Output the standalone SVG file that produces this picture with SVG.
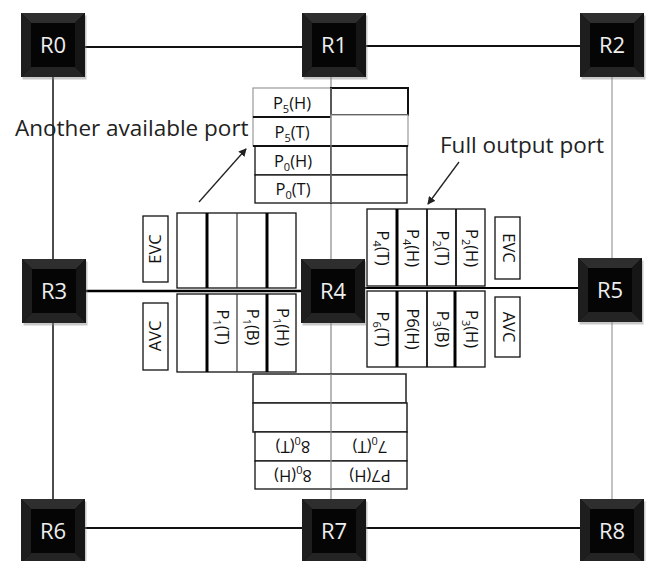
<svg xmlns="http://www.w3.org/2000/svg" xmlns:xlink="http://www.w3.org/1999/xlink" width="646" height="561" viewBox="0 0 646 561">
<style>
.lbl{font-family:"Open Sans","Noto Sans","Liberation Sans",sans-serif;font-size:16.5px;fill:#111;text-anchor:middle}
.rl{font-family:"Open Sans","Noto Sans","Liberation Sans",sans-serif;font-size:22px;fill:#eee;text-anchor:middle}
.ann{font-family:"Open Sans","Noto Sans","Liberation Sans",sans-serif;font-size:22.5px;fill:#222}
.sub{font-size:11px}
.cell{fill:#fff;stroke:#111;stroke-width:1.3}
.thin{stroke:#333;stroke-width:1.2}
.thick{stroke:#000;stroke-width:3}
.gray{stroke:#999;stroke-width:1.2}
.blk{stroke:#111;stroke-width:2;fill:none}
</style>
<defs>
<marker id="ah" markerWidth="8" markerHeight="8" refX="7" refY="4" orient="auto" markerUnits="userSpaceOnUse">
<path d="M0,0 L8,4 L0,8 z" fill="#222"/>
</marker>
<g id="router">
<rect x="1.5" y="2.5" width="64" height="64" fill="#888" opacity="0.45"/>
<rect x="0" y="0" width="64" height="64" fill="#000"/>
<polygon points="0,0 64,0 54,10 10,10" fill="#2e2e2e"/>
<polygon points="0,0 10,10 10,54 0,64" fill="#1e1e1e"/>
<polygon points="64,0 64,64 54,54 54,10" fill="#161616"/>
<polygon points="0,64 64,64 54,54 10,54" fill="#242424"/>
<rect x="10" y="10" width="44" height="44" fill="#050505"/>
</g>
</defs>
<rect width="646" height="561" fill="#fff"/>

<g id="connectors">
<line x1="85" y1="47" x2="302" y2="47" class="blk"/>
<line x1="366" y1="46" x2="580" y2="46" class="blk"/>
<line x1="53" y1="77" x2="53" y2="259" stroke="#111" stroke-width="1.5"/>
<line x1="53" y1="323" x2="53" y2="499" stroke="#111" stroke-width="1.5"/>
<line x1="612" y1="77" x2="612" y2="258" stroke="#999" stroke-width="1.2"/>
<line x1="612" y1="322" x2="612" y2="499" stroke="#999" stroke-width="1.2"/>
<line x1="331" y1="77" x2="331" y2="259" stroke="#888" stroke-width="1.2"/>
<line x1="331" y1="323" x2="331" y2="499" stroke="#888" stroke-width="1.2"/>
<line x1="86" y1="291" x2="301" y2="291" stroke="#000" stroke-width="2.6"/>
<line x1="365" y1="288" x2="578" y2="288" stroke="#000" stroke-width="2"/>
<line x1="85" y1="528" x2="302" y2="528" class="blk"/>
<line x1="366" y1="528" x2="580" y2="528" class="blk"/>
<line x1="199" y1="202" x2="246" y2="149" stroke="#222" stroke-width="1.3" marker-end="url(#ah)"/>
<line x1="459" y1="162" x2="428" y2="204" stroke="#222" stroke-width="1.3" marker-end="url(#ah)"/>
</g>

<g id="top-ports">
<rect x="253" y="88" width="78" height="29" fill="#fff" stroke="#999" stroke-width="1.2"/>
<rect x="253" y="117" width="78" height="29" fill="#fff" stroke="#999" stroke-width="1.2"/>
<line x1="253" y1="117" x2="331" y2="117" class="blk"/>
<rect x="331" y="88" width="77" height="27" fill="#fff" stroke="#111" stroke-width="2"/>
<rect x="331" y="115" width="77" height="31" fill="#fff" stroke="#999" stroke-width="1.2"/>
<rect x="255" y="146" width="76" height="29" class="cell"/>
<rect x="255" y="175" width="76" height="28" class="cell"/>
<rect x="331" y="146" width="76" height="29" class="cell"/>
<rect x="331" y="175" width="76" height="28" class="cell"/>
<line x1="253" y1="146" x2="408" y2="146" class="blk"/>
<line x1="331" y1="88" x2="331" y2="203" stroke="#888" stroke-width="1.2"/>
<text class="lbl" x="292" y="109">P<tspan class="sub" dy="4">5</tspan><tspan dy="-4">(H)</tspan></text>
<text class="lbl" x="292" y="138">P<tspan class="sub" dy="4">5</tspan><tspan dy="-4">(T)</tspan></text>
<text class="lbl" x="293" y="167">P<tspan class="sub" dy="4">0</tspan><tspan dy="-4">(H)</tspan></text>
<text class="lbl" x="293" y="195">P<tspan class="sub" dy="4">0</tspan><tspan dy="-4">(T)</tspan></text>
</g>

<g id="left-ports">
<rect x="177" y="213" width="119" height="75" class="cell"/>
<rect x="177" y="294" width="119" height="78" class="cell"/>
<line x1="207" y1="213" x2="207" y2="288" class="thick"/>
<line x1="237" y1="213" x2="237" y2="288" class="thin"/>
<line x1="267" y1="213" x2="267" y2="288" class="thick"/>
<line x1="207" y1="294" x2="207" y2="372" class="thick"/>
<line x1="237" y1="294" x2="237" y2="372" class="thin"/>
<line x1="267" y1="294" x2="267" y2="372" class="thick"/>
<text class="lbl" transform="translate(222,327) rotate(90)" y="5">P<tspan class="sub" dy="4">1</tspan><tspan dy="-4">(T)</tspan></text>
<text class="lbl" transform="translate(252,327) rotate(90)" y="5">P<tspan class="sub" dy="4">1</tspan><tspan dy="-4">(B)</tspan></text>
<text class="lbl" transform="translate(282,327) rotate(90)" y="5">P<tspan class="sub" dy="4">1</tspan><tspan dy="-4">(H)</tspan></text>
</g>

<g id="left-evc">
<rect x="143" y="216" width="25" height="66" class="cell"/>
<text class="lbl" transform="translate(155.5,249) rotate(-90)" y="5">EVC</text>
</g>
<g id="left-avc">
<rect x="143" y="303" width="25" height="67" class="cell"/>
<text class="lbl" transform="translate(155.5,336) rotate(-90)" y="5">AVC</text>
</g>

<g id="right-ports">
<rect x="367" y="209" width="118" height="77" class="cell"/>
<rect x="367" y="291" width="118" height="76" class="cell"/>
<line x1="397" y1="209" x2="397" y2="286" class="thick"/>
<line x1="427" y1="209" x2="427" y2="286" stroke="#111" stroke-width="1.8"/>
<line x1="456" y1="209" x2="456" y2="286" stroke="#111" stroke-width="1.8"/>
<line x1="397" y1="291" x2="397" y2="367" class="thick"/>
<line x1="427" y1="291" x2="427" y2="367" stroke="#111" stroke-width="1.8"/>
<line x1="455" y1="291" x2="455" y2="367" class="thick"/>
<text class="lbl" transform="translate(382,248) rotate(90)" y="5">P<tspan class="sub" dy="4">4</tspan><tspan dy="-4">(T)</tspan></text>
<text class="lbl" transform="translate(412,248) rotate(90)" y="5">P<tspan class="sub" dy="4">4</tspan><tspan dy="-4">(H)</tspan></text>
<text class="lbl" transform="translate(441.5,248) rotate(90)" y="5">P<tspan class="sub" dy="4">2</tspan><tspan dy="-4">(T)</tspan></text>
<text class="lbl" transform="translate(470.5,248) rotate(90)" y="5">P<tspan class="sub" dy="4">2</tspan><tspan dy="-4">(H)</tspan></text>
<text class="lbl" transform="translate(382,329) rotate(90)" y="5">P<tspan class="sub" dy="4">6</tspan><tspan dy="-4">(T)</tspan></text>
<text class="lbl" transform="translate(412,329) rotate(90)" y="5">P6(H)</text>
<text class="lbl" transform="translate(441.5,329) rotate(90)" y="5">P<tspan class="sub" dy="4">3</tspan><tspan dy="-4">(B)</tspan></text>
<text class="lbl" transform="translate(470.5,329) rotate(90)" y="5">P<tspan class="sub" dy="4">3</tspan><tspan dy="-4">(H)</tspan></text>
</g>

<g id="right-evc">
<rect x="495" y="217" width="25" height="62" class="cell"/>
<text class="lbl" transform="translate(507.5,248) rotate(90)" y="5">EVC</text>
</g>
<g id="right-avc">
<rect x="495" y="297" width="25" height="60" class="cell"/>
<text class="lbl" transform="translate(507.5,327) rotate(90)" y="5">AVC</text>
</g>

<g id="bottom-ports">
<rect x="253" y="374" width="153" height="29" fill="#fff" stroke="#222" stroke-width="1.5"/>
<rect x="253" y="403" width="154" height="29" fill="#fff" stroke="#222" stroke-width="1.5"/>
<rect x="255" y="432" width="152" height="29" class="cell"/>
<rect x="255" y="461" width="152" height="28" class="cell"/>
<line x1="331" y1="374" x2="331" y2="489" stroke="#888" stroke-width="1.2"/>
<text class="lbl" transform="translate(293,446) rotate(180)" y="5">8<tspan class="sub" dy="4">0</tspan><tspan dy="-4">(T)</tspan></text>
<text class="lbl" transform="translate(370,446) rotate(180)" y="5">7<tspan class="sub" dy="4">0</tspan><tspan dy="-4">(T)</tspan></text>
<text class="lbl" transform="translate(293,475) rotate(180)" y="5">8<tspan class="sub" dy="4">0</tspan><tspan dy="-4">(H)</tspan></text>
<text class="lbl" transform="translate(370,475) rotate(180)" y="5">P7(H)</text>
</g>

<g id="annotations">
<text class="ann" x="15" y="136">Another available port</text>
<text class="ann" x="440" y="153">Full output port</text>
</g>

<g id="R0" transform="translate(21,13)"><use xlink:href="#router"/><text class="rl" x="32" y="40">R0</text></g>
<g id="R1" transform="translate(302,13)"><use xlink:href="#router"/><text class="rl" x="32" y="40">R1</text></g>
<g id="R2" transform="translate(580,13)"><use xlink:href="#router"/><text class="rl" x="32" y="40">R2</text></g>
<g id="R3" transform="translate(22,259)"><use xlink:href="#router"/><text class="rl" x="32" y="40">R3</text></g>
<g id="R4" transform="translate(301,259)"><use xlink:href="#router"/><text class="rl" x="32" y="40">R4</text></g>
<g id="R5" transform="translate(578,258)"><use xlink:href="#router"/><text class="rl" x="32" y="40">R5</text></g>
<g id="R6" transform="translate(21,499)"><use xlink:href="#router"/><text class="rl" x="32" y="40">R6</text></g>
<g id="R7" transform="translate(302,499)"><use xlink:href="#router"/><text class="rl" x="32" y="40">R7</text></g>
<g id="R8" transform="translate(580,499)"><use xlink:href="#router"/><text class="rl" x="32" y="40">R8</text></g>
</svg>
